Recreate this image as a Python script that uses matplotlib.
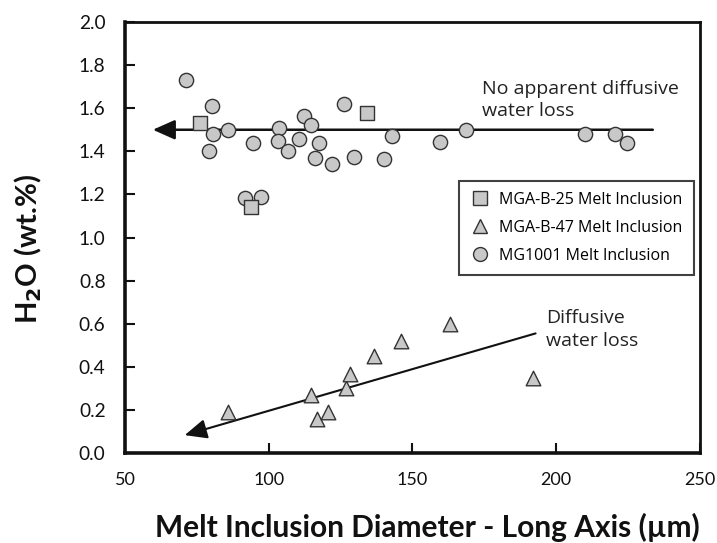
#!/usr/bin/env python3
"""H2O content vs melt inclusion diameter, with diffusive-loss trend arrows."""
import matplotlib; matplotlib.use("Agg")
import matplotlib.pyplot as plt
from matplotlib.lines import Line2D

# MGA-B-25 melt inclusions (squares)
sq_x = [76.0, 93.9, 134.1]
sq_y = [1.53, 1.143, 1.58]
# MGA-B-47 melt inclusions (triangles)
tri_x = [86.0, 114.6, 117.0, 120.7, 126.8, 128.4, 136.7, 145.9, 163.0, 192.1]
tri_y = [0.19, 0.27, 0.156, 0.19, 0.30, 0.366, 0.45, 0.52, 0.597, 0.347]
# MG1001 melt inclusions (circles)
circ_x = [71.1, 80.4, 80.6, 85.8, 79.2, 94.5, 91.6, 97.4, 103.7, 103.4, 106.8,
          110.7, 112.2, 114.9, 117.4, 116.1, 122.1, 126.4, 129.8, 140.1, 143.0,
          159.6, 168.7, 210.0, 220.7, 224.7]
circ_y = [1.73, 1.61, 1.48, 1.50, 1.40, 1.44, 1.185, 1.19, 1.51, 1.45, 1.40,
          1.455, 1.564, 1.52, 1.44, 1.37, 1.34, 1.62, 1.375, 1.366, 1.47,
          1.443, 1.50, 1.479, 1.48, 1.44]
# trend arrows: (start, tip)
flat_line = [(233.7, 1.50), (59.7, 1.50)]
loss_line = [(192.9, 0.555), (70.8, 0.083)]

LABEL_FONT = ["Lato", "DejaVu Sans"]
NOTE_FONT = ["Open Sans", "DejaVu Sans"]
FILL, EDGE = "#c8c8c8", "#333333"

fig = plt.figure(figsize=(7.17, 5.43), dpi=100)
ax = fig.add_axes([0.1743, 0.1657, 0.8015, 0.7938])

ax.scatter(circ_x, circ_y, s=105, marker="o", c=FILL, edgecolors=EDGE, linewidths=1.0, zorder=4)
ax.scatter(sq_x, sq_y, s=95, marker="s", c=FILL, edgecolors=EDGE, linewidths=1.0, zorder=4)
ax.scatter(tri_x, tri_y, s=110, marker="^", c=FILL, edgecolors=EDGE, linewidths=1.0, zorder=4)

for (x0, y0), (x1, y1), lw in [(flat_line[0], flat_line[1], 1.8), (loss_line[0], loss_line[1], 1.5)]:
    ax.annotate("", xy=(x1, y1), xytext=(x0, y0), zorder=3,
                arrowprops=dict(arrowstyle="-|>,head_length=1.35,head_width=0.6",
                                color="#111111", lw=lw, shrinkA=0, shrinkB=0))

ax.text(174.1, 1.638, "No apparent diffusive\nwater loss", fontsize=14, family=NOTE_FONT,
        color="#222222", va="center", ha="left", linespacing=1.3)
ax.text(196.6, 0.573, "Diffusive\nwater loss", fontsize=14, family=NOTE_FONT,
        color="#222222", va="center", ha="left", linespacing=1.3)

ax.set_xlim(50, 250)
ax.set_ylim(0, 2.0)
ax.set_xticks([50, 100, 150, 200, 250])
ax.set_yticks([0.0, 0.2, 0.4, 0.6, 0.8, 1.0, 1.2, 1.4, 1.6, 1.8, 2.0])
ax.set_yticklabels([f"{v:.1f}" for v in ax.get_yticks()])
ax.tick_params(direction="in", length=7, width=1.5, pad=14, labelsize=13.8,
               colors="#111111", top=False, right=False)
ax.tick_params(axis="x", labelsize=13)
for lab in ax.get_xticklabels() + ax.get_yticklabels():
    lab.set_family(LABEL_FONT)
for side, w in [("left", 2.6), ("bottom", 2.6), ("top", 2.0), ("right", 2.0)]:
    ax.spines[side].set_linewidth(w)
    ax.spines[side].set_color("#111111")

fig.text(0.5 * (125 + 702) / 717 + 0.02, 1 - 527 / 543, "Melt Inclusion Diameter - Long Axis (µm)",
         ha="center", va="center", fontsize=21.5, fontweight="bold", family=LABEL_FONT, color="#111111")
fig.text(28 / 717, 1 - 249 / 543, "H$_\\mathbf{2}$O (wt.%)", rotation=90,
         ha="center", va="center", fontsize=21, fontweight="bold", family=LABEL_FONT, color="#111111")

handles = [Line2D([], [], ls="", marker="s", ms=9.5, mfc=FILL, mec=EDGE, mew=1.0),
           Line2D([], [], ls="", marker="^", ms=10, mfc=FILL, mec=EDGE, mew=1.0),
           Line2D([], [], ls="", marker="o", ms=10, mfc=FILL, mec=EDGE, mew=1.0)]
labels = ["MGA-B-25 Melt Inclusion", "MGA-B-47 Melt Inclusion", "MG1001 Melt Inclusion"]
leg = ax.legend(handles, labels, loc="upper left", bbox_to_anchor=(0.582, 0.632),
                frameon=True, fancybox=False, edgecolor="#111111",
                prop={"family": NOTE_FONT, "size": 11.5}, handletextpad=0.6,
                labelspacing=0.75, borderpad=0.7, handlelength=1.2, borderaxespad=0)
leg.get_frame().set_linewidth(1.5)

fig.savefig("out.png", dpi=100)
